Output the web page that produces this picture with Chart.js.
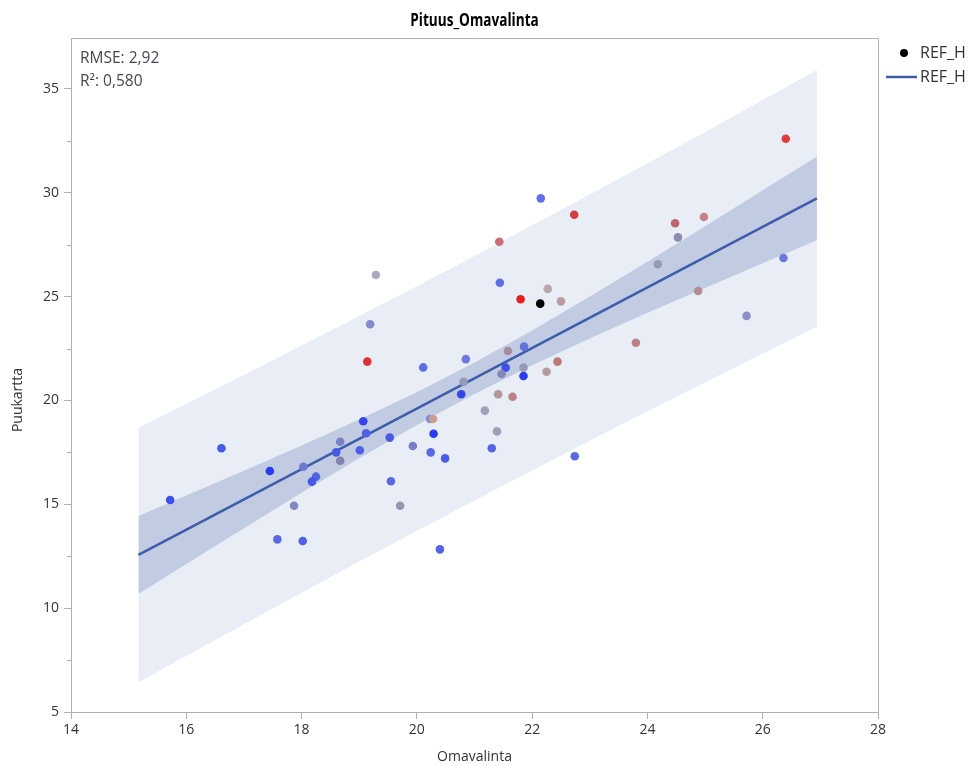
<!DOCTYPE html>
<html>
<head>
<meta charset="utf-8">
<script src="https://cdn.jsdelivr.net/npm/chart.js@4.4.1/dist/chart.umd.min.js"></script>
<style>
  html, body { margin: 0; padding: 0; background: #ffffff; }
  #wrap { width: 972px; height: 766px; position: relative; }
</style>
</head>
<body>
<div id="wrap"><canvas id="c"></canvas></div>
<script>
// ---- Data ----
const chartTitle = 'Pituus_Omavalinta';
const xTitle = 'Omavalinta';
const yTitle = 'Puukartta';
const statLines = ['RMSE: 2,92', 'R\u00B2: 0,580'];
const legendLabels = ['REF_H', 'REF_H'];

const xTicks = [14, 16, 18, 20, 22, 24, 26, 28];
const yTicks = [5, 10, 15, 20, 25, 30, 35];
const yMinorTicks = [7.5, 12.5, 17.5, 22.5, 27.5, 32.5];

// scatter points (Omavalinta, Puukartta)
const ptX = [22.15, 22.73, 21.43, 19.29, 21.44, 22.27, 21.80, 22.50, 19.19, 21.86,
             21.58, 22.44, 19.14, 20.11, 20.85, 21.54, 21.47, 21.85, 21.85, 22.25,
             20.81, 20.77, 21.41, 21.66, 21.18, 20.23, 20.28, 19.07, 19.12, 19.53,
             20.29, 21.39, 18.67, 18.60, 18.67, 19.01, 16.61, 17.45, 18.03, 18.25,
             18.18, 19.93, 20.24, 20.49, 21.30, 22.74, 15.72, 17.87, 19.55, 19.71,
             17.58, 18.02, 20.40, 26.40, 24.48, 24.98, 24.53, 24.18, 24.88, 26.36,
             25.72, 23.80, 22.14];
const ptY = [29.73, 28.94, 27.64, 26.04, 25.67, 25.37, 24.87, 24.77, 23.67, 22.59,
             22.38, 21.87, 21.87, 21.59, 21.99, 21.58, 21.27, 21.58, 21.18, 21.38,
             20.90, 20.30, 20.30, 20.18, 19.51, 19.11, 19.11, 19.00, 18.42, 18.21,
             18.40, 18.51, 18.01, 17.50, 17.10, 17.60, 17.70, 16.60, 16.81, 16.33,
             16.09, 17.81, 17.50, 17.21, 17.70, 17.31, 15.21, 14.93, 16.11, 14.93,
             13.31, 13.23, 12.83, 32.60, 28.53, 28.83, 27.85, 26.56, 25.27, 26.86,
             24.07, 22.78, 24.66];
const ptColors = ['rgb(100,110,235)', 'rgb(215,60,65)', 'rgb(205,110,115)', 'rgb(170,170,190)', 'rgb(95,110,230)',
                  'rgb(185,165,170)', 'rgb(230,30,30)', 'rgb(185,155,160)', 'rgb(130,140,205)', 'rgb(100,115,220)',
                  'rgb(165,140,160)', 'rgb(190,120,120)', 'rgb(220,50,55)', 'rgb(95,110,225)', 'rgb(110,120,225)',
                  'rgb(60,80,230)', 'rgb(130,135,180)', 'rgb(150,155,185)', 'rgb(40,60,240)', 'rgb(180,155,160)',
                  'rgb(150,155,185)', 'rgb(50,70,230)', 'rgb(180,150,155)', 'rgb(185,130,135)', 'rgb(160,160,185)',
                  'rgb(130,140,200)', 'rgb(200,160,150)', 'rgb(50,70,235)', 'rgb(80,95,230)', 'rgb(70,90,230)',
                  'rgb(40,60,240)', 'rgb(160,160,185)', 'rgb(120,130,200)', 'rgb(70,90,230)', 'rgb(130,130,170)',
                  'rgb(80,95,230)', 'rgb(70,90,235)', 'rgb(40,60,240)', 'rgb(110,120,210)', 'rgb(85,100,225)',
                  'rgb(70,90,230)', 'rgb(120,125,200)', 'rgb(90,105,225)', 'rgb(75,90,230)', 'rgb(85,100,225)',
                  'rgb(90,105,225)', 'rgb(60,80,235)', 'rgb(130,135,195)', 'rgb(90,105,225)', 'rgb(150,150,180)',
                  'rgb(90,105,225)', 'rgb(80,95,230)', 'rgb(85,100,230)', 'rgb(225,60,60)', 'rgb(190,100,110)',
                  'rgb(195,130,135)', 'rgb(140,140,175)', 'rgb(150,155,170)', 'rgb(175,140,145)', 'rgb(110,120,220)',
                  'rgb(140,145,195)', 'rgb(185,130,135)', 'rgb(0,0,0)'];

// fit line and bands read along x
const bandX  = [15.17, 16, 17, 18, 19, 20, 21, 22, 23, 24, 25, 26, 26.94];
const fitY   = [12.56, 13.77, 15.23, 16.69, 18.15, 19.61, 21.07, 22.53, 23.99, 25.45, 26.90, 28.36, 29.73];
const ciUp   = [14.44, 15.42, 16.61, 17.83, 19.08, 20.40, 21.83, 23.37, 25.00, 26.68, 28.39, 30.12, 31.75];
const ciLo   = [10.68, 12.12, 13.85, 15.55, 17.22, 18.82, 20.31, 21.69, 22.98, 24.22, 25.41, 26.60, 27.71];
const piUp   = [18.69, 19.84, 21.23, 22.64, 24.06, 25.50, 26.96, 28.43, 29.92, 31.42, 32.93, 34.46, 35.91];
const piLo   = [6.43, 7.70, 9.23, 10.74, 12.24, 13.72, 15.18, 16.63, 18.06, 19.48, 20.87, 22.26, 23.55];

// ---- Build chart ----
const FONT = "'Open Sans', 'Noto Sans', 'DejaVu Sans', sans-serif";
const TXT = '#333333';
const AXIS = '#b0b0b0';
const LINE = 'rgb(62,92,170)';

const toXY = (xs, ys) => xs.map((v, i) => ({ x: v, y: ys[i] }));

const decor = {
  id: 'decor',
  afterDraw(chart) {
    const { ctx, chartArea: a, scales: { y } } = chart;
    ctx.save();
    // frame top/right
    ctx.strokeStyle = AXIS;
    ctx.lineWidth = 1;
    ctx.beginPath();
    ctx.moveTo(a.left, a.top + 0.5);
    ctx.lineTo(a.right + 0.5, a.top + 0.5);
    ctx.lineTo(a.right + 0.5, a.bottom);
    // minor y ticks
    yMinorTicks.forEach(v => {
      const py = Math.round(y.getPixelForValue(v)) + 0.5;
      ctx.moveTo(a.left - 4, py);
      ctx.lineTo(a.left, py);
    });
    ctx.stroke();

    // chart title (condensed bold)
    ctx.save();
    ctx.translate((a.left + a.right) / 2, 21);
    ctx.scale(0.8, 1);
    ctx.fillStyle = '#000';
    ctx.font = 'bold 17px ' + FONT;
    ctx.textAlign = 'center';
    ctx.textBaseline = 'middle';
    ctx.fillText(chartTitle, 0, 0);
    ctx.restore();

    ctx.textBaseline = 'middle';
    // stats
    ctx.fillStyle = '#4a4452';
    ctx.font = '15.5px ' + FONT;
    ctx.textAlign = 'left';
    ctx.fillText(statLines[0], a.left + 9, 59);
    ctx.fillText(statLines[1], a.left + 9, 82);

    // y title
    ctx.save();
    ctx.translate(18, 400);
    ctx.rotate(-Math.PI / 2);
    ctx.fillStyle = TXT;
    ctx.font = '14px ' + FONT;
    ctx.textAlign = 'center';
    ctx.fillText(yTitle, 0, 0);
    ctx.restore();

    // legend
    ctx.fillStyle = '#000';
    ctx.beginPath();
    ctx.arc(904, 53, 4, 0, Math.PI * 2);
    ctx.fill();
    ctx.strokeStyle = LINE;
    ctx.lineWidth = 2.5;
    ctx.beginPath();
    ctx.moveTo(886, 77);
    ctx.lineTo(917, 77);
    ctx.stroke();
    ctx.fillStyle = TXT;
    ctx.font = '16px ' + FONT;
    ctx.textAlign = 'left';
    ctx.fillText(legendLabels[0], 920, 53);
    ctx.fillText(legendLabels[1], 920, 77);
    ctx.restore();
  }
};

const lineDs = (data, extra) => Object.assign({
  data, showLine: true, pointRadius: 0, pointHoverRadius: 0, borderWidth: 0,
  borderColor: 'rgba(0,0,0,0)', fill: false, tension: 0
}, extra);

new Chart(document.getElementById('c'), {
  type: 'scatter',
  data: {
    datasets: [
      lineDs(toXY(bandX, piLo), { label: 'piLo', order: 5 }),
      lineDs(toXY(bandX, piUp), { label: 'piUp', order: 4, fill: '-1', backgroundColor: 'rgb(233,238,246)' }),
      lineDs(toXY(bandX, ciLo), { label: 'ciLo', order: 3 }),
      lineDs(toXY(bandX, ciUp), { label: 'ciUp', order: 2, fill: '-1', backgroundColor: 'rgb(193,204,227)' }),
      lineDs(toXY([bandX[0], bandX[bandX.length - 1]], [fitY[0], fitY[fitY.length - 1]]),
             { label: legendLabels[1], order: 1, borderWidth: 2.5, borderColor: LINE }),
      {
        label: legendLabels[0], order: 0,
        data: toXY(ptX, ptY),
        pointRadius: 4.3, pointHoverRadius: 4.3, pointBorderWidth: 0,
        pointBackgroundColor: ptColors, backgroundColor: ptColors, borderColor: ptColors
      }
    ]
  },
  options: {
    responsive: true,
    maintainAspectRatio: false,
    devicePixelRatio: 1,
    animation: false,
    events: [],
    layout: { padding: { left: 0, right: 94, top: 38, bottom: 0 } },
    plugins: { legend: { display: false }, tooltip: { enabled: false }, title: { display: false } },
    scales: {
      x: {
        type: 'linear', min: 14, max: 28,
        afterFit(s) { s.height = 54; },
        afterBuildTicks(s) { s.ticks = xTicks.map(v => ({ value: v })); },
        grid: { drawOnChartArea: false, drawTicks: true, tickLength: 7, tickColor: AXIS },
        border: { display: true, color: AXIS, width: 1 },
        ticks: { color: TXT, font: { family: FONT, size: 14 }, padding: 3, maxRotation: 0 },
        title: { display: true, text: xTitle, color: TXT, font: { family: FONT, size: 14 }, padding: { top: 0, bottom: 1 } }
      },
      y: {
        type: 'linear', min: 5, max: 37.45,
        afterFit(s) { s.width = 71; },
        afterBuildTicks(s) { s.ticks = yTicks.map(v => ({ value: v })); },
        grid: { drawOnChartArea: false, drawTicks: true, tickLength: 7, tickColor: AXIS },
        border: { display: true, color: AXIS, width: 1 },
        ticks: { color: TXT, font: { family: FONT, size: 14 }, padding: 5 }
      }
    }
  },
  plugins: [decor]
});
</script>
</body>
</html>
